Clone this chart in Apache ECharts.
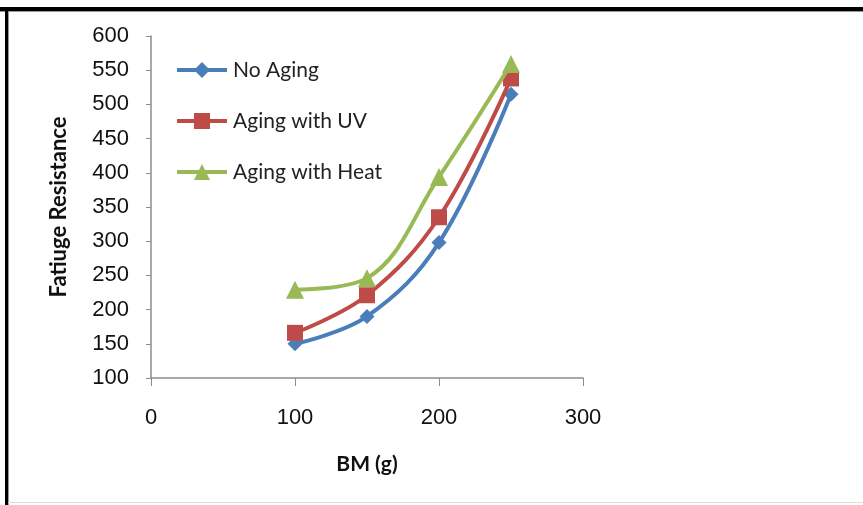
<!DOCTYPE html>
<html>
<head>
<meta charset="utf-8">
<script src="https://cdn.jsdelivr.net/npm/echarts@6/dist/echarts.min.js"></script>
<style>
html,body{margin:0;padding:0;background:#fff;}
#c{width:863px;height:505px;}
</style>
</head>
<body>
<div id="c"></div>
<script>
const xValues = [100, 150, 200, 250];
const seriesNames = ['No Aging', 'Aging with UV', 'Aging with Heat'];
const noAging = [150, 190, 298, 515];
const agingUV = [166, 221, 335, 538];
const agingHeat = [229, 246, 394, 559];
const xTicks = [0, 100, 200, 300];
const yTicks = [100, 150, 200, 250, 300, 350, 400, 450, 500, 550, 600];

const colors = ['#4A7EBB', '#BE4B48', '#98B954'];
const symbols = ['diamond', 'rect', 'triangle'];
const symbolSizes = [15, 16, 18];
const dataSets = [noAging, agingUV, agingHeat];

const chart = echarts.init(document.getElementById('c'), null, {renderer: 'canvas'});
const series = seriesNames.map((n, i) => ({
  name: n,
  type: 'line',
  smooth: 0.38,
  data: xValues.map((x, k) => [x, dataSets[i][k]]),
  symbol: symbols[i],
  symbolSize: symbolSizes[i],
  showAllSymbol: true,
  lineStyle: {color: colors[i], width: 4},
  itemStyle: {color: colors[i]},
  emphasis: {disabled: true},
  z: 2 + i
}));

chart.setOption({
  animation: false,
  backgroundColor: '#fff',
  grid: {left: 151, right: 280, top: 36, bottom: 127, containLabel: false},
  legend: {
    orient: 'vertical',
    left: 175,
    top: 59,
    padding: 0,
    itemWidth: 50,
    itemHeight: 20,
    itemGap: 29,
    data: seriesNames,
    lineStyle: {width: 4},
    textStyle: {fontFamily: 'Lato', fontSize: 21, lineHeight: 22, color: '#222', padding: [0, 0, 0, 1]}
  },
  xAxis: {
    type: 'value',
    min: 0, max: 300, interval: 100,
    name: 'BM (g)',
    nameLocation: 'middle',
    nameGap: 76,
    nameTextStyle: {fontFamily: 'Lato', fontWeight: 'bold', fontSize: 21, color: '#111'},
    axisLine: {show: true, lineStyle: {color: '#8C8C8C', width: 1.5}},
    axisTick: {show: true, inside: false, length: 8, lineStyle: {color: '#8C8C8C'}},
    axisLabel: {fontFamily: 'Liberation Sans', fontSize: 22, color: '#111', margin: 29},
    splitLine: {show: false}
  },
  yAxis: {
    type: 'value',
    min: 100, max: 600, interval: 50,
    name: 'Fatiuge Resistance',
    nameLocation: 'middle',
    nameGap: 81,
    nameRotate: 90,
    nameTextStyle: {fontFamily: 'Lato', fontWeight: 'bold', fontSize: 22, color: '#111'},
    axisLine: {show: true, lineStyle: {color: '#8C8C8C', width: 1.5}},
    axisTick: {show: true, inside: false, length: 5, lineStyle: {color: '#8C8C8C'}},
    axisLabel: {fontFamily: 'Liberation Sans', fontSize: 22, color: '#111', margin: 22},
    splitLine: {show: false}
  },
  graphic: [
    {type: 'rect', shape: {x: 0, y: 7, width: 863, height: 4}, style: {fill: '#000'}, silent: true},
    {type: 'rect', shape: {x: 0, y: 11, width: 863, height: 1}, style: {fill: '#999'}, silent: true},
    {type: 'rect', shape: {x: 5, y: 7, width: 3, height: 498}, style: {fill: '#000'}, silent: true},
    {type: 'rect', shape: {x: 8, y: 11, width: 1, height: 494}, style: {fill: '#999'}, silent: true},
    {type: 'rect', shape: {x: 8, y: 502, width: 855, height: 1}, style: {fill: '#ddd'}, silent: true}
  ],
  series: series
});
</script>
</body>
</html>
